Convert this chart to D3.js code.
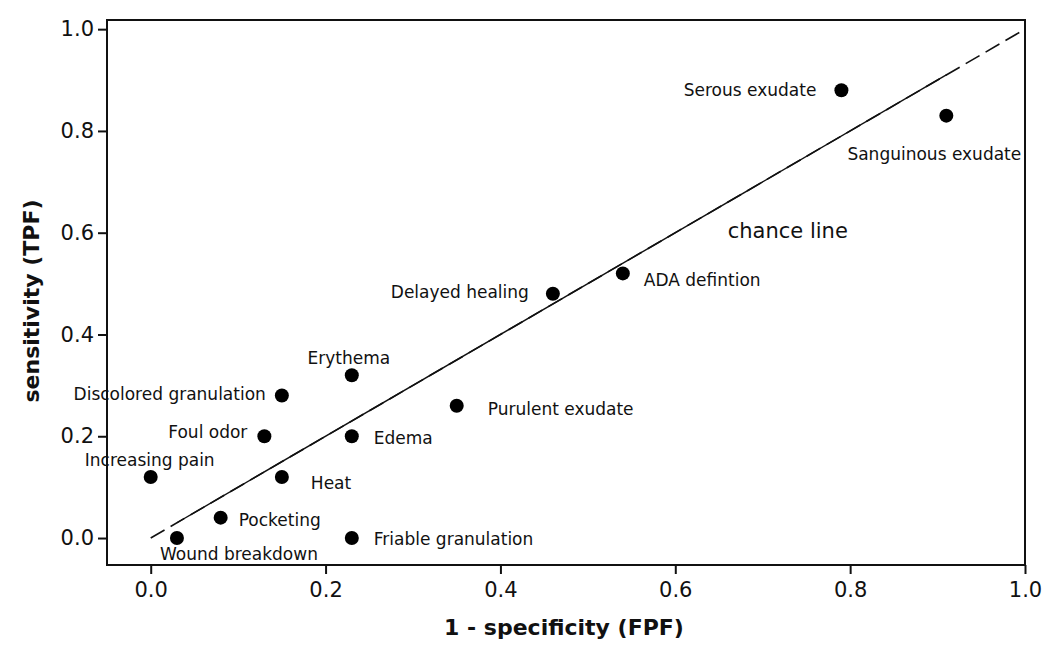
<!DOCTYPE html>
<html>
<head>
<meta charset="utf-8">
<script src="https://cdn.jsdelivr.net/npm/d3@7"></script>
<style>
  body { margin: 0; background: #fff; }
  text { font-family: "DejaVu Sans", Verdana, sans-serif; fill: #111; }
</style>
</head>
<body>
<div id="viz"></div>
<script>
// data
const signs = ["Serous exudate", "Sanguinous exudate", "ADA defintion", "Delayed healing",
  "Erythema", "Discolored granulation", "Purulent exudate", "Foul odor", "Edema",
  "Increasing pain", "Heat", "Pocketing", "Wound breakdown", "Friable granulation"];
const fpf = [0.79, 0.91, 0.54, 0.46, 0.23, 0.15, 0.35, 0.13, 0.23, 0.00, 0.15, 0.08, 0.03, 0.23];
const tpf = [0.88, 0.83, 0.52, 0.48, 0.32, 0.28, 0.26, 0.20, 0.20, 0.12, 0.12, 0.04, 0.00, 0.00];
const xTicks = [0.0, 0.2, 0.4, 0.6, 0.8, 1.0];
const yTicks = [0.0, 0.2, 0.4, 0.6, 0.8, 1.0];
const chanceLine = [[0, 0], [1, 1]];
const fitLine = [[0.03, 0.03], [0.91, 0.91]];

let data = signs.map((s, i) => ({ name: s, x: fpf[i], y: tpf[i] }));

// label placement (anchor, dx, dy) per point
const labelPos = {
  "Serous exudate": ["end", -25, 6],
  "Sanguinous exudate": ["middle", -12, 44],
  "ADA defintion": ["start", 21, 13],
  "Delayed healing": ["end", -24, 4],
  "Erythema": ["middle", -3, -11],
  "Discolored granulation": ["end", -16, 4],
  "Purulent exudate": ["start", 31, 9],
  "Foul odor": ["end", -17, 2],
  "Edema": ["start", 22, 8],
  "Increasing pain": ["middle", -1, -11],
  "Heat": ["start", 29, 12],
  "Pocketing": ["start", 18, 8],
  "Wound breakdown": ["middle", 62, 22],
  "Friable granulation": ["start", 22, 7]
};

let width = 1050, height = 650;
let plot = { left: 107, right: 1025, top: 20, bottom: 565 };

let xScale = d3.scaleLinear().domain([-0.05, 1.0]).range([plot.left, plot.right]);
let yScale = d3.scaleLinear().domain([-0.053, 1.018]).range([plot.bottom, plot.top]);

let svg = d3.select("#viz").append("svg")
  .attr("width", width)
  .attr("height", height);

// frame
svg.append("rect")
  .attr("x", plot.left)
  .attr("y", plot.top)
  .attr("width", plot.right - plot.left)
  .attr("height", plot.bottom - plot.top)
  .attr("fill", "none")
  .attr("stroke", "#111")
  .attr("stroke-width", 2);

// x axis
let xAxis = svg.append("g")
  .attr("transform", `translate(0,${plot.bottom})`)
  .call(d3.axisBottom(xScale).tickValues(xTicks).tickFormat(d3.format(".1f")).tickSize(9).tickPadding(8));
xAxis.select(".domain").remove();
xAxis.selectAll("line").attr("stroke", "#111").attr("stroke-width", 2);
xAxis.selectAll("text").style("font-size", "21px").attr("fill", "#111");

// y axis
let yAxis = svg.append("g")
  .attr("transform", `translate(${plot.left},0)`)
  .call(d3.axisLeft(yScale).tickValues(yTicks).tickFormat(d3.format(".1f")).tickSize(9).tickPadding(4));
yAxis.select(".domain").remove();
yAxis.selectAll("line").attr("stroke", "#111").attr("stroke-width", 2);
yAxis.selectAll("text").style("font-size", "21px").attr("fill", "#111");

let line = d3.line()
  .x(d => xScale(d[0]))
  .y(d => yScale(d[1]));

svg.append("path")
  .datum(chanceLine)
  .attr("fill", "none")
  .attr("stroke", "#111")
  .attr("stroke-width", 1.6)
  .attr("stroke-dasharray", "16,7")
  .attr("d", line);

svg.append("path")
  .datum(fitLine)
  .attr("fill", "none")
  .attr("stroke", "#111")
  .attr("stroke-width", 1.4)
  .attr("d", line);

// points
svg.append("g")
  .selectAll("circle")
  .data(data)
  .enter()
  .append("circle")
  .attr("cx", d => xScale(d.x))
  .attr("cy", d => yScale(d.y))
  .attr("r", 7)
  .attr("fill", "#000");

svg.append("g")
  .selectAll("text")
  .data(data)
  .enter()
  .append("text")
  .attr("x", d => xScale(d.x) + labelPos[d.name][1])
  .attr("y", d => yScale(d.y) + labelPos[d.name][2])
  .attr("text-anchor", d => labelPos[d.name][0])
  .style("font-size", "17px")
  .text(d => d.name);

svg.append("text")
  .attr("x", xScale(0.66))
  .attr("y", yScale(0.59))
  .style("font-size", "21px")
  .text("chance line");

// axis titles
svg.append("text")
  .attr("x", 564)
  .attr("y", 635)
  .attr("text-anchor", "middle")
  .style("font-size", "22px")
  .style("font-weight", "bold")
  .text("1 - specificity (FPF)");

svg.append("text")
  .attr("transform", "rotate(-90)")
  .attr("x", -301)
  .attr("y", 39)
  .attr("text-anchor", "middle")
  .style("font-size", "22px")
  .style("font-weight", "bold")
  .text("sensitivity (TPF)");
</script>
</body>
</html>
